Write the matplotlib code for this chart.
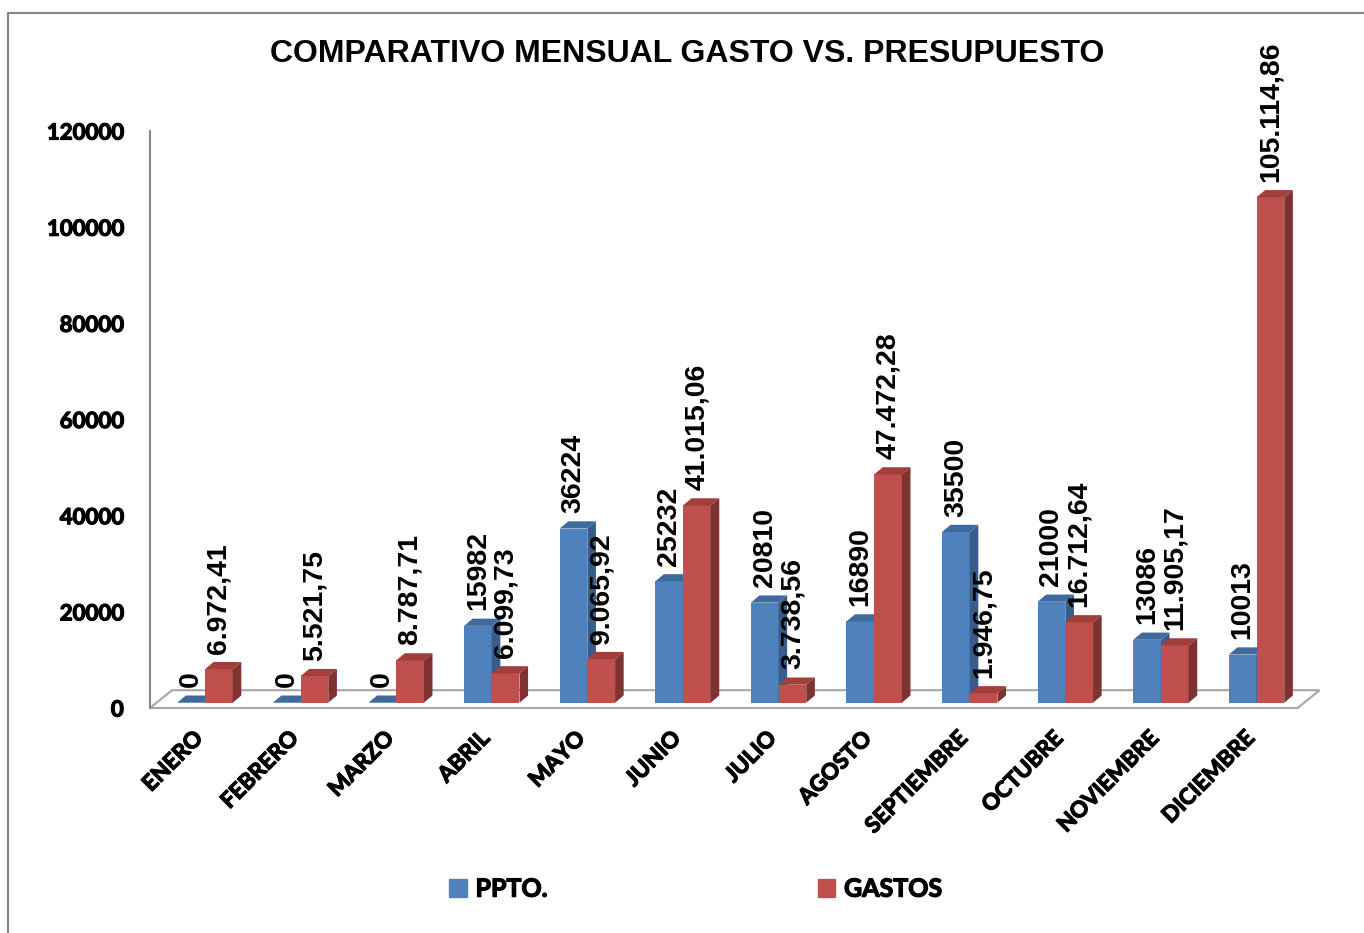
import matplotlib.pyplot as plt
from matplotlib.patches import Polygon, Rectangle
from matplotlib.transforms import ScaledTranslation
import matplotlib.patheffects as pe
import numpy as np

# Datos del grafico
meses = ["ENERO", "FEBRERO", "MARZO", "ABRIL", "MAYO", "JUNIO", "JULIO",
         "AGOSTO", "SEPTIEMBRE", "OCTUBRE", "NOVIEMBRE", "DICIEMBRE"]
ppto = [0, 0, 0, 15982, 36224, 25232, 20810, 16890, 35500, 21000, 13086, 10013]
gastos = [6972.41, 5521.75, 8787.71, 6099.73, 9065.92, 41015.06, 3738.56,
          47472.28, 1946.75, 16712.64, 11905.17, 105114.86]
yticks = [0, 20000, 40000, 60000, 80000, 100000, 120000]


def fmt_es(v):
    # formato 1.234,56
    s = f"{v:,.2f}"
    return s.replace(",", "X").replace(".", ",").replace("X", ".")


ppto_lbl = [str(v) for v in ppto]
gastos_lbl = [fmt_es(v) for v in gastos]

# colores (frente, tapa, lado)
azul = ("#4F81BD", "#3E6A9E", "#385D8A")
rojo = ("#C0504D", "#A23F3C", "#7E3331")

W = 0.29      # ancho de barra
DX = 0.09     # profundidad de barra (x)
DY = 1500     # profundidad de barra (y)
BASE = 1100   # las barras se apoyan a media profundidad del piso
FDX = 0.23    # profundidad del piso
FDY = 3700
XMIN, XFRONT, XMAX = -0.575, 11.43, 11.664
grueso = [pe.withStroke(linewidth=0.9, foreground="black")]
CAL = dict(family="Lato", fontweight="bold", path_effects=grueso)

fig = plt.figure(figsize=(13.64, 9.33), dpi=100)
ax = fig.add_axes([150 / 1364, 1 - 708 / 933, 1170 / 1364, 577 / 933])

# piso
ax.add_patch(Polygon([(XMIN, 0), (XFRONT, 0), (XFRONT + FDX, FDY), (XMIN + FDX, FDY)],
                     closed=True, fill=False, ec="#A6A6A6", lw=1.5, clip_on=False))


def barra3d(x, v, cols):
    ax.bar(x, v, W, bottom=BASE, color=cols[0], lw=0)
    x0, x1 = x - W / 2, x + W / 2
    t = BASE + v
    ax.add_patch(Polygon([(x0, t), (x1, t), (x1 + DX, t + DY), (x0 + DX, t + DY)],
                         closed=True, fc=cols[1], ec="none", clip_on=False))
    ax.add_patch(Polygon([(x1, BASE), (x1 + DX, BASE + DY), (x1 + DX, t + DY), (x1, t)],
                         closed=True, fc=cols[2], ec="none", clip_on=False))


xs = np.arange(len(meses))
for i in xs:
    barra3d(i - W / 2, ppto[i], azul)
    barra3d(i + W / 2, gastos[i], rojo)

lblfont = dict(family="Liberation Sans", fontsize=20.5, fontweight="bold",
               rotation=90, ha="center", va="bottom")
for i in xs:
    ax.text(i - W / 2, BASE + ppto[i] + DY + 1700, ppto_lbl[i], **lblfont)
    ax.text(i + W / 2, BASE + gastos[i] + DY + 1700, gastos_lbl[i], **lblfont)

ax.set_xlim(XMIN, XMAX)
ax.set_ylim(0, 120000)
for s in ["top", "right", "bottom"]:
    ax.spines[s].set_visible(False)
ax.spines["left"].set_color("#878787")
ax.spines["left"].set_linewidth(1.5)

ax.set_yticks(yticks)
ax.set_yticklabels([str(t) for t in yticks], fontsize=16, **CAL)
ax.tick_params(axis="y", length=0, pad=19)

ax.set_xticks(xs)
ax.set_xticklabels(meses, rotation=45, ha="right", va="top", rotation_mode="anchor",
                   fontsize=16, **CAL)
ax.tick_params(axis="x", length=0, pad=14)
desplaza = ScaledTranslation(-0.13, 0, fig.dpi_scale_trans)
for lab in ax.get_xticklabels():
    lab.set_transform(lab.get_transform() + desplaza)

fig.text(0.504, 0.942, "COMPARATIVO MENSUAL GASTO VS. PRESUPUESTO",
         family="Liberation Sans", fontsize=23, fontweight="bold", ha="center", va="center")

handles = [Rectangle((0, 0), 1, 1, color=azul[0]), Rectangle((0, 0), 1, 1, color=rojo[0])]
leg = fig.legend(handles, ["PPTO.", "GASTOS"], loc="center", bbox_to_anchor=(0.51, 0.047),
                 ncol=2, frameon=False, handlelength=0.7, handleheight=0.7, handletextpad=0.35,
                 columnspacing=10.8, prop=dict(family="Lato", weight="bold", size=18))
for txt in leg.get_texts():
    txt.set_path_effects(grueso)

# borde del area del grafico
fig.add_artist(Rectangle((8 / 1364, -0.05), 1.1, 1 - 13 / 933 + 0.05, transform=fig.transFigure,
                         fill=False, ec="#868686", lw=1.5))

fig.savefig("out.png", dpi=100)
